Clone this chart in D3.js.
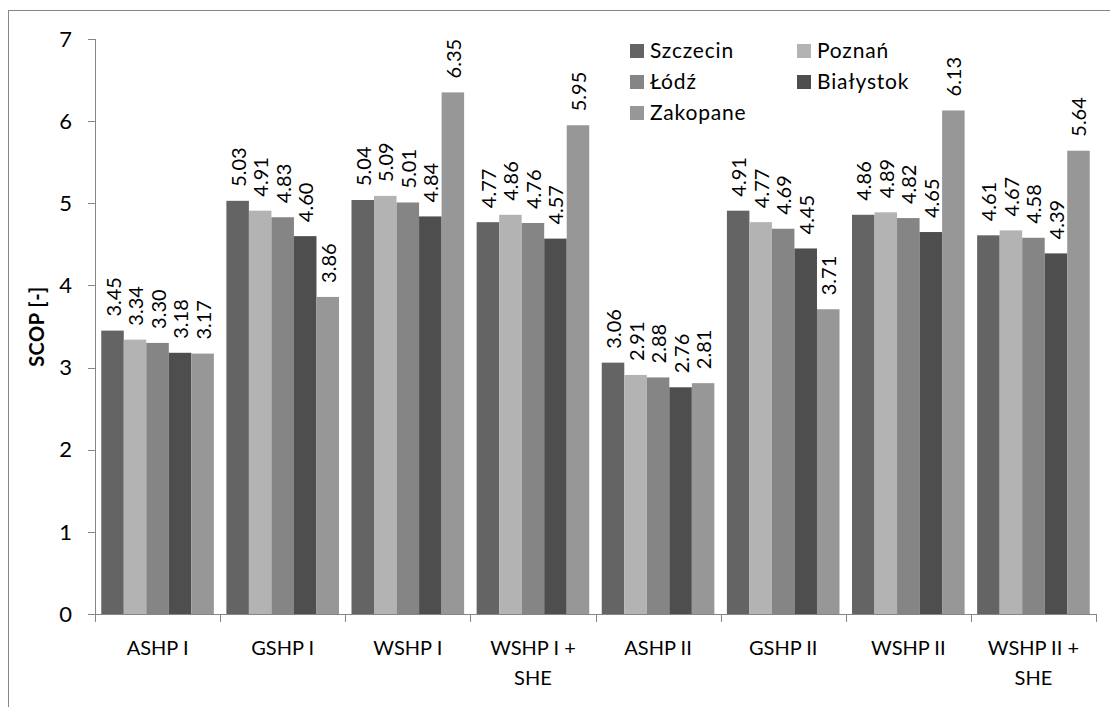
<!DOCTYPE html>
<html><head><meta charset="utf-8">
<script src="https://cdn.jsdelivr.net/npm/d3@7"></script>
<style>body{margin:0;background:#fff}svg text{font-family:Lato,"Open Sans",sans-serif;fill:#000}</style>
</head><body><svg id="c" width="1110" height="707"></svg>
<script>
const categories = [["ASHP I"],["GSHP I"],["WSHP I"],["WSHP I +","SHE"],["ASHP II"],["GSHP II"],["WSHP II"],["WSHP II +","SHE"]];
const seriesNames = ["Szczecin","Poznań","Łódź","Białystok","Zakopane"];
const seriesColors = ["#646464","#b3b3b3","#858585","#4e4e4e","#979797"];
const szczecin  = [3.45,5.03,5.04,4.77,3.06,4.91,4.86,4.61];
const poznan    = [3.34,4.91,5.09,4.86,2.91,4.77,4.89,4.67];
const lodz      = [3.30,4.83,5.01,4.76,2.88,4.69,4.82,4.58];
const bialystok = [3.18,4.60,4.84,4.57,2.76,4.45,4.65,4.39];
const zakopane  = [3.17,3.86,6.35,5.95,2.81,3.71,6.13,5.64];
const yTicks = [0,1,2,3,4,5,6,7];
const yTitle = "SCOP [-]";

const series = [szczecin,poznan,lodz,bialystok,zakopane];
const svg = d3.select("#c");
const axisColor = "#868686";
const L=95, R=1096, T=39, B=614;

svg.append("rect").attr("x",8.5).attr("y",10.5).attr("width",1200).attr("height",800)
  .attr("fill","none").attr("stroke",axisColor);

const x = d3.scaleBand().domain(d3.range(categories.length)).range([L,R]).padding(0);
const bw = x.bandwidth();
const xi = d3.scaleBand().domain(d3.range(series.length)).range([bw*0.05,bw*0.95]).padding(0);
const y = d3.scaleLinear().domain([0,7]).range([B,T]);

// bars
series.forEach((s,si)=>{
  const g = svg.append("g");
  g.selectAll("rect").data(s).join("rect")
    .attr("x",(d,i)=>x(i)+xi(si)).attr("width",xi.bandwidth())
    .attr("y",d=>y(d)).attr("height",d=>B-y(d)).attr("fill",seriesColors[si]);
  g.selectAll("text").data(s).join("text")
    .attr("transform",(d,i)=>`translate(${x(i)+xi(si)+xi.bandwidth()/2+1},${y(d)-14}) rotate(-90)`)
    .attr("dy","0.35em").attr("font-size",20).text(d=>d.toFixed(2));
});

// y axis
svg.append("line").attr("x1",L+0.5).attr("x2",L+0.5).attr("y1",T).attr("y2",B+8).attr("stroke",axisColor);
yTicks.forEach(t=>{
  svg.append("line").attr("x1",L-7).attr("x2",L).attr("y1",Math.round(y(t))+0.5).attr("y2",Math.round(y(t))+0.5).attr("stroke",axisColor);
  svg.append("text").attr("x",72).attr("y",y(t)).attr("dy","0.35em").attr("text-anchor","end").attr("font-size",22).text(t);
});
svg.append("text").attr("transform",`translate(37,${(T+B)/2}) rotate(-90)`).attr("text-anchor","middle")
  .attr("dy","0.35em").attr("font-size",20).attr("font-weight","bold").attr("letter-spacing",0.5).text(yTitle);

// x axis
svg.append("line").attr("x1",L).attr("x2",R).attr("y1",B+0.5).attr("y2",B+0.5).attr("stroke",axisColor);
d3.range(categories.length+1).forEach(i=>{
  const xx = Math.round(L+i*bw)+0.5;
  svg.append("line").attr("x1",xx).attr("x2",xx).attr("y1",B).attr("y2",B+8).attr("stroke",axisColor);
});
categories.forEach((c,i)=>{
  c.forEach((line,li)=>{
    svg.append("text").attr("x",x(i)+bw/2).attr("y",648+li*30).attr("dy","0.35em")
      .attr("text-anchor","middle").attr("font-size",20).text(line);
  });
});

// legend
const legPos = [[630,51],[797,51],[630,82],[797,82],[630,113]];
seriesNames.forEach((n,i)=>{
  const [lx,ly]=legPos[i];
  svg.append("rect").attr("x",lx).attr("y",ly-7).attr("width",14).attr("height",14).attr("fill",seriesColors[i]);
  svg.append("text").attr("x",lx+20).attr("y",ly).attr("dy","0.35em").attr("font-size",21).attr("letter-spacing",0.8).text(n);
});
</script></body></html>
